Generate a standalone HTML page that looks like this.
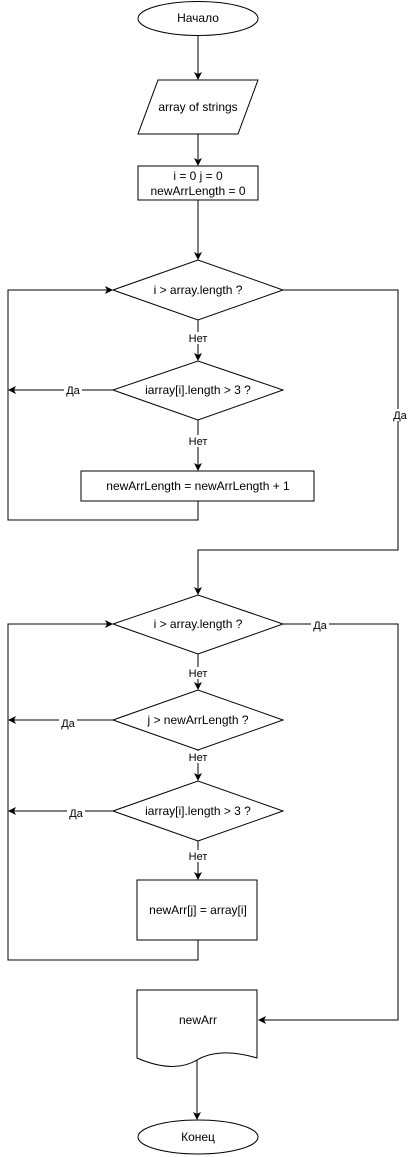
<!DOCTYPE html>
<html><head><meta charset="utf-8"><style>
html,body{margin:0;padding:0;background:#fff;}
svg{display:block;}
text{font-family:"Liberation Sans",Arial,sans-serif;font-size:12px;fill:#000;}
.l{font-size:11px;}
</style></head><body>
<svg width="408" height="1157" viewBox="0 0 408 1157" xmlns="http://www.w3.org/2000/svg">
<defs><marker id="a" markerWidth="8" markerHeight="8" refX="7" refY="4" orient="auto" markerUnits="userSpaceOnUse"><path d="M0,0 L8,4 L0,8 L2,4 Z" fill="#000"/></marker></defs>
<g fill="#fff" stroke="#000" stroke-width="1">
<ellipse cx="198" cy="18.5" rx="60" ry="17"/>
<polygon points="158,80 258,80 238,134 138,134"/>
<rect x="138" y="166" width="120" height="34"/>
<polygon points="113,290 198,260 283,290 198,320"/>
<polygon points="113,390 198,361 283,390 198,420"/>
<rect x="81" y="471" width="233" height="30"/>
<polygon points="113,624 198,595 283,624 198,654"/>
<polygon points="113,720 198,690 283,720 198,750"/>
<polygon points="113,811 198,781 283,811 198,841"/>
<rect x="137" y="880" width="120" height="60"/>
<path d="M137,990 H257 V1058 C230,1050 210,1052 197,1060 C180,1070 160,1068 137,1058 Z"/>
<ellipse cx="198" cy="1137" rx="60" ry="17"/>
</g>
<g fill="none" stroke="#000" stroke-width="1">
<line x1="198" y1="36" x2="198" y2="79" marker-end="url(#a)"/>
<line x1="198" y1="134" x2="198" y2="165" marker-end="url(#a)"/>
<line x1="198" y1="200" x2="198" y2="259" marker-end="url(#a)"/>
<line x1="198" y1="320" x2="198" y2="360" marker-end="url(#a)"/>
<line x1="198" y1="420" x2="198" y2="470" marker-end="url(#a)"/>
<line x1="113" y1="390" x2="9" y2="390" marker-end="url(#a)"/>
<polyline points="198,501 198,520 8,520 8,290 112,290" marker-end="url(#a)"/>
<polyline points="283,290 398,290 398,550 198,550 198,594" marker-end="url(#a)"/>
<line x1="198" y1="654" x2="198" y2="689" marker-end="url(#a)"/>
<line x1="198" y1="750" x2="198" y2="780" marker-end="url(#a)"/>
<line x1="198" y1="841" x2="198" y2="879" marker-end="url(#a)"/>
<line x1="113" y1="720" x2="9" y2="720" marker-end="url(#a)"/>
<line x1="113" y1="811" x2="9" y2="811" marker-end="url(#a)"/>
<polyline points="198,940 198,960 8,960 8,624 112,624" marker-end="url(#a)"/>
<polyline points="283,624 398,624 398,1020 259,1020" marker-end="url(#a)"/>
<line x1="197" y1="1060" x2="197" y2="1119" marker-end="url(#a)"/>
</g>
<g text-anchor="middle">
<text x="198" y="22">Начало</text>
<text x="198" y="111">array of strings</text>
<text x="198" y="180">i = 0 j = 0</text>
<text x="198" y="195">newArrLength = 0</text>
<text x="198" y="294">i &gt; array.length ?</text>
<text x="198" y="394">iarray[i].length &gt; 3 ?</text>
<text x="198" y="490">newArrLength = newArrLength + 1</text>
<text x="198" y="628">i &gt; array.length ?</text>
<text x="198" y="724">j &gt; newArrLength ?</text>
<text x="198" y="815">iarray[i].length &gt; 3 ?</text>
<text x="198" y="914">newArr[j] = array[i]</text>
<text x="198" y="1024">newArr</text>
<text x="198" y="1141">Конец</text>
</g>
<g text-anchor="middle" class="l">
<rect x="185" y="332" width="26" height="12" fill="#fff"/><text class="l" x="198" y="342">Нет</text>
<rect x="185" y="435" width="26" height="12" fill="#fff"/><text class="l" x="198" y="445">Нет</text>
<rect x="64" y="384" width="18" height="12" fill="#fff"/><text class="l" x="73" y="394">Да</text>
<rect x="392" y="409" width="16" height="12" fill="#fff"/><text class="l" x="400" y="419">Да</text>
<rect x="311" y="619" width="18" height="12" fill="#fff"/><text class="l" x="320" y="629">Да</text>
<rect x="185" y="667" width="26" height="12" fill="#fff"/><text class="l" x="198" y="677">Нет</text>
<rect x="59" y="717" width="18" height="12" fill="#fff"/><text class="l" x="68" y="727">Да</text>
<rect x="185" y="751" width="26" height="12" fill="#fff"/><text class="l" x="198" y="761">Нет</text>
<rect x="67" y="807" width="18" height="12" fill="#fff"/><text class="l" x="76" y="817">Да</text>
<rect x="185" y="850" width="26" height="12" fill="#fff"/><text class="l" x="198" y="860">Нет</text>
</g>
</svg>
</body></html>
